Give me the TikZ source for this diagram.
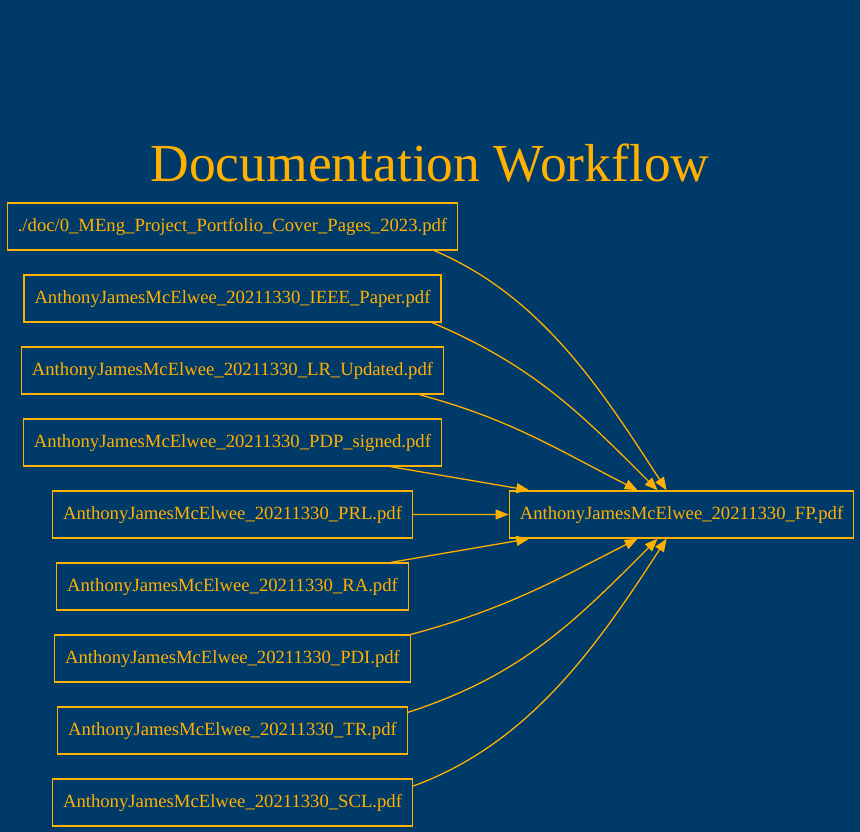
\documentclass[tikz,border=0pt]{standalone}
\usepackage{fontspec}
\setmainfont{Liberation Serif}
\usepackage{tikz}
\usetikzlibrary{arrows.meta}
\usetikzlibrary{positioning}
\definecolor{wfblue}{RGB}{0,58,104}
\definecolor{wforange}{RGB}{255,176,0}
\tikzstyle{pdffile} = [rectangle, draw=wforange, text=wforange, line width=1.3pt, minimum height=47pt, inner xsep=10.5pt, font=\fontsize{18.67}{22}\selectfont]
\tikzstyle{link} = [draw=wforange, line width=1.3pt, -{Triangle[length=13pt, width=10pt]}]

\begin{document}
\begin{tikzpicture}[x=1pt, y=-1pt, node distance=23.7pt]
\fill[wfblue] (0,0) rectangle (860,832);
\useasboundingbox (0,0) rectangle (860,832);

\node (title) at (430,163) [text=wforange, font=\fontsize{53.5}{58}\selectfont] {Documentation Workflow};

\node (d1) at (232.5,226.5) [pdffile] {./doc/0\_MEng\_Project\_Portfolio\_Cover\_Pages\_2023.pdf};
\node (d2) [pdffile, below=of d1] {AnthonyJamesMcElwee\_20211330\_IEEE\_Paper.pdf};
\node (d3) [pdffile, below=of d2] {AnthonyJamesMcElwee\_20211330\_LR\_Updated.pdf};
\node (d4) [pdffile, below=of d3] {AnthonyJamesMcElwee\_20211330\_PDP\_signed.pdf};
\node (d5) [pdffile, below=of d4] {AnthonyJamesMcElwee\_20211330\_PRL.pdf};
\node (d6) [pdffile, below=of d5] {AnthonyJamesMcElwee\_20211330\_RA.pdf};
\node (d7) [pdffile, below=of d6] {AnthonyJamesMcElwee\_20211330\_PDI.pdf};
\node (d8) [pdffile, below=of d7] {AnthonyJamesMcElwee\_20211330\_TR.pdf};
\node (d9) [pdffile, below=of d8] {AnthonyJamesMcElwee\_20211330\_SCL.pdf};

\node (fp) at (681.5,514.5) [pdffile] {AnthonyJamesMcElwee\_20211330\_FP.pdf};

% everything feeds the final portfolio
\draw[link] ([xshift=-24pt]d1.south east) to[out=-23, in=123, looseness=0.9] ([xshift=158pt]fp.north west);
\draw[link] ([xshift=-9.5pt]d2.south east) to[out=-23, in=135] ([xshift=149pt]fp.north west);
\draw[link] ([xshift=-25pt]d3.south east) to[out=-15, in=153] ([xshift=129pt]fp.north west);
\draw[link] ([xshift=-51.7pt]d4.south east) -- ([xshift=20.7pt]fp.north west);
\draw[link] (d5.east) -- (fp.west);
\draw[link] ([xshift=-18pt]d6.north east) -- ([xshift=20.7pt]fp.south west);
\draw[link] (d7.north east) to[out=15, in=-153] ([xshift=129pt]fp.south west);
\draw[link] ([yshift=-6pt]d8.north east) to[out=18, in=-135] ([xshift=149pt]fp.south west);
\draw[link] ([yshift=-7.7pt]d9.north east) to[out=20, in=-123, looseness=0.9] ([xshift=158pt]fp.south west);
\end{tikzpicture}
\end{document}
